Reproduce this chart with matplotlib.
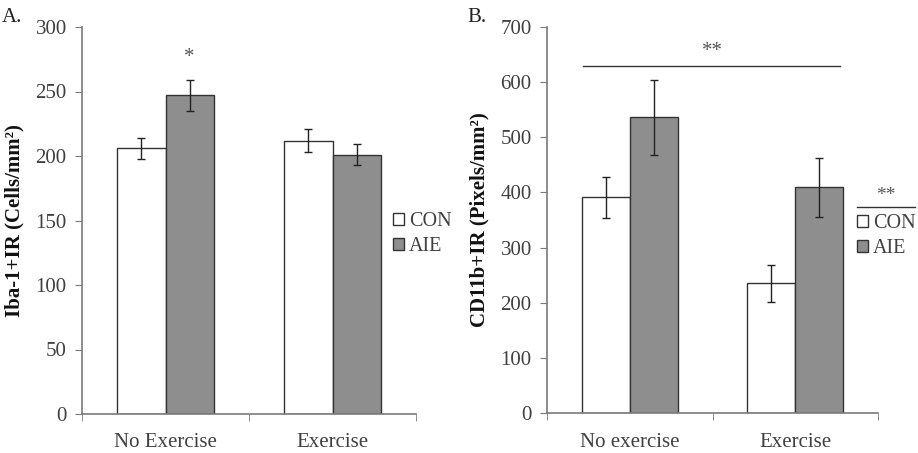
import matplotlib
matplotlib.use('Agg')
import matplotlib.pyplot as plt
from matplotlib.patches import Patch
import numpy as np

groups_a = ['No Exercise', 'Exercise']
con_a = [206, 212]
con_a_err = [8, 9]
aie_a = [247, 201]
aie_a_err = [12, 8]

groups_b = ['No exercise', 'Exercise']
con_b = [391, 235]
con_b_err = [37, 33]
aie_b = [536, 409]
aie_b_err = [68, 54]

series = ['CON', 'AIE']

plt.rcParams['font.family'] = ['Liberation Serif', 'DejaVu Serif']
TEXT = '#404040'
SPINE = '#7a7a7a'
GREY = '#8e8e8e'
EDGE = '#333333'
W = 0.29


def panel(ax, names, con, con_err, aie, aie_err, ymax, step, ylabel):
    x = np.arange(len(names))
    ax.bar(x - W / 2, con, W, color='white', edgecolor=EDGE, linewidth=1)
    ax.bar(x + W / 2, aie, W, color=GREY, edgecolor=EDGE, linewidth=1)
    ax.errorbar(x - W / 2, con, yerr=con_err, fmt='none', ecolor='#222222', elinewidth=1, capsize=3)
    ax.errorbar(x + W / 2, aie, yerr=aie_err, fmt='none', ecolor='#222222', elinewidth=1, capsize=3)
    ax.set_xlim(-0.5, len(names) - 0.5)
    ax.set_ylim(0, ymax)
    ax.set_yticks(np.arange(0, ymax + 1, step))
    ax.set_xticks(x)
    ax.set_xticklabels(names)
    ax.set_xticks(np.arange(-0.5, len(names), 1), minor=True)
    ax.tick_params(axis='x', which='major', length=0, pad=14)
    ax.tick_params(axis='x', which='minor', length=5, direction='out', color=SPINE)
    ax.tick_params(axis='y', length=5, direction='out', color=SPINE, pad=6)
    ax.tick_params(labelsize=15, labelcolor=TEXT)
    for s in ['top', 'right']:
        ax.spines[s].set_visible(False)
    for s in ['left', 'bottom']:
        ax.spines[s].set_color(SPINE)
        ax.spines[s].set_linewidth(1.2)
    ax.set_ylabel(ylabel, fontsize=15, fontweight='bold', color='#111111', labelpad=8)


fig = plt.figure(figsize=(9.18, 4.53), dpi=100)
H = 453.0
axA = fig.add_axes([82 / 918, (H - 414) / H, 334 / 918, 387 / H])
axB = fig.add_axes([547 / 918, (H - 413.3) / H, 331 / 918, 386.7 / H])

panel(axA, groups_a, con_a, con_a_err, aie_a, aie_a_err, 300, 50, 'Iba-1+IR (Cells/mm²)')
panel(axB, groups_b, con_b, con_b_err, aie_b, aie_b_err, 700, 100, 'CD11b+IR (Pixels/mm²)')

# significance marks
axA.text(0 + W / 2, 276, '*', ha='center', va='center', fontsize=15, color='#555555')
axB.plot([-0.28, 1.27], [629, 629], color='#333333', lw=1, clip_on=False)
axB.text(0.5, 655, '**', ha='center', va='center', fontsize=15, color='#555555')

handles = [Patch(facecolor='white', edgecolor=EDGE), Patch(facecolor=GREY, edgecolor=EDGE)]
for ax, x0, yc in [(axA, 393, 234), (axB, 857, 236)]:
    ax.legend(handles, series, loc='center left', bbox_to_anchor=(x0 / 918, 1 - yc / H),
              bbox_transform=fig.transFigure, frameon=False, fontsize=14.5,
              handlelength=0.55, handleheight=0.55, handletextpad=0.25,
              labelspacing=0.3, borderpad=0, borderaxespad=0, labelcolor=TEXT)

fig.add_artist(plt.Line2D([857 / 918, 915 / 918], [1 - 207 / H, 1 - 207 / H], color='#333333', lw=1))
fig.text(886 / 918, 1 - 195 / H, '**', ha='center', va='center', fontsize=14, color='#555555')

fig.text(2 / 918, 1 - 17 / H, 'A.', fontsize=15, color='#222222', va='center')
fig.text(467 / 918, 1 - 17 / H, 'B.', fontsize=15, color='#222222', va='center')

fig.savefig('out.png', dpi=100)
